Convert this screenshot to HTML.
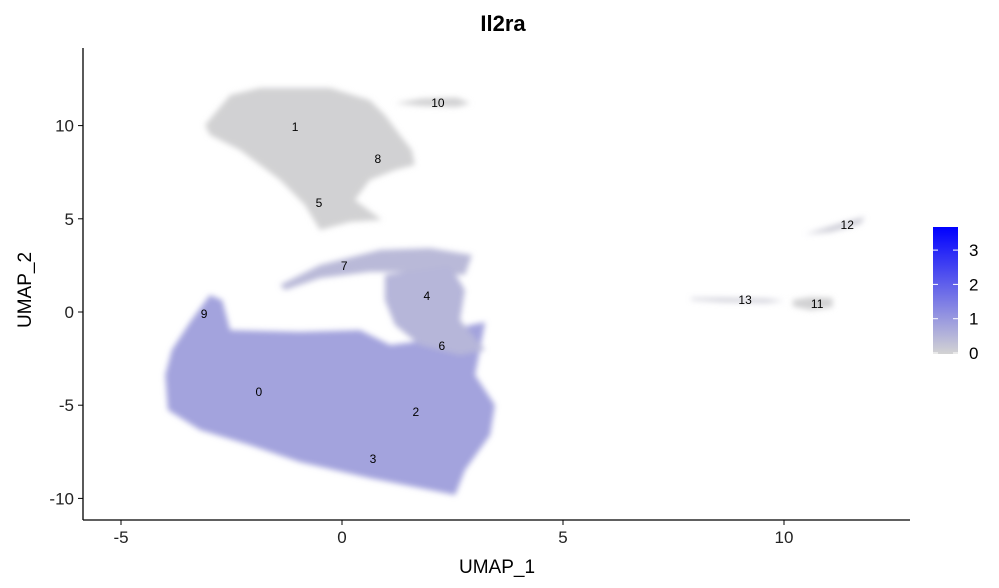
<!DOCTYPE html>
<html><head><meta charset="utf-8"><style>
html,body{margin:0;padding:0;background:#fff;}
svg{display:block;font-family:"Liberation Sans",sans-serif;}
</style></head><body>
<svg id="chart" width="999" height="588" viewBox="0 0 999 588">
<defs>
<filter id="soft" x="-10%" y="-10%" width="120%" height="120%"><feGaussianBlur stdDeviation="3"/></filter>
<linearGradient id="cbar" x1="0" y1="1" x2="0" y2="0">
<stop offset="0" stop-color="#d3d3d3"/><stop offset="1" stop-color="#0000ff"/>
</linearGradient>
</defs>
<text x="503" y="31" text-anchor="middle" font-size="22" font-weight="bold" fill="#000">Il2ra</text>
<g id="clusters" filter="url(#soft)"></g>
<g id="labels"></g>
<g id="axes"></g>
<text x="497" y="573" text-anchor="middle" font-size="19" fill="#000">UMAP_1</text>
<text transform="translate(31,290) rotate(-90)" text-anchor="middle" font-size="19" fill="#000">UMAP_2</text>
<rect x="933" y="227" width="25" height="127" fill="url(#cbar)"/>
<g id="legend"></g>
</svg>
<script>
const xTicks=[-5,0,5,10];
const yTicks=[-10,-5,0,5,10];
const legendTicks=[0,1,2,3];
const legendMax=3.7;
const clusterNames=["top","bottom","arc7","c46","c10","c13","c11","c12"];
const clusterExpr=[0.03,0.85,0.45,0.5,0.03,0.15,0.03,0.15];
const clusterShapes=[
[[-3.10,10.03],[-2.53,11.64],[-1.86,12.02],[-0.27,12.02],[0.63,11.37],[0.97,10.57],[1.31,9.50],[1.58,8.69],[1.65,7.89],[1.20,7.62],[0.63,7.08],[0.29,6.01],[0.90,4.94],[0.18,4.83],[-0.50,4.40],[-0.84,5.74],[-1.40,7.08],[-2.31,8.69],[-2.99,9.50]],
[[-4.00,-3.38],[-3.85,-2.04],[-3.44,-0.54],[-2.99,0.91],[-2.71,0.64],[-2.53,-0.97],[-0.95,-1.07],[0.41,-0.97],[1.09,-1.77],[1.99,-1.50],[2.90,-0.70],[3.24,-0.54],[3.12,-2.04],[3.01,-3.38],[3.46,-4.99],[3.35,-6.60],[2.78,-8.48],[2.56,-9.82],[1.76,-9.44],[0.63,-8.91],[-0.95,-8.05],[-2.08,-7.14],[-3.21,-6.33],[-3.94,-5.26]],
[[-1.40,1.45],[-0.50,2.52],[0.86,3.33],[1.99,3.43],[2.94,3.06],[2.78,1.99],[1.76,2.15],[0.63,2.15],[-0.50,1.82],[-1.29,1.18]],
[[0.97,1.99],[2.44,2.52],[2.78,1.18],[2.67,-0.43],[3.24,-2.04],[2.67,-2.31],[1.76,-1.77],[1.20,-0.70],[0.97,0.64]],
[[1.2,11.2],[1.8,11.45],[2.6,11.5],[2.9,11.2],[2.6,11.0],[1.8,11.05]],
[[7.9,0.75],[8.6,0.75],[9.6,0.70],[10.0,0.6],[9.6,0.5],[8.6,0.55],[7.9,0.65]],
[[10.2,0.65],[10.6,0.80],[11.1,0.75],[11.1,0.25],[10.6,0.10],[10.2,0.30]],
[[10.48,4.18],[11.38,4.83],[11.83,5.10],[11.72,4.72],[11.04,4.29]]
];
const labelNames=["0","1","2","3","4","5","6","7","8","9","10","11","12","13"];
const labelX=[-1.88,-1.06,1.67,0.70,1.92,-0.52,2.26,0.05,0.81,-3.12,2.17,10.75,11.43,9.12];
const labelY=[-4.29,9.92,-5.36,-7.89,0.86,5.85,-1.82,2.47,8.21,-0.11,11.21,0.43,4.67,0.64];

const X=v=>342+v*44.2, Y=v=>312-v*18.64;
const NS="http://www.w3.org/2000/svg";
function mk(t,a,p){const e=document.createElementNS(NS,t);for(const k in a)e.setAttribute(k,a[k]);p.appendChild(e);return e;}
function col(e){const t=Math.min(e/legendMax,1);const r=Math.round(211*(1-t)),g=Math.round(211*(1-t)),b=Math.round(211+(255-211)*t);return `rgb(${r},${g},${b})`;}
const cg=document.getElementById('clusters');
clusterShapes.forEach((s,i)=>{
 const p=mk('polygon',{points:s.map(q=>X(q[0]).toFixed(1)+','+Y(q[1]).toFixed(1)).join(' '),fill:col(clusterExpr[i])},cg);
 
 
});
const lg=document.getElementById('labels');
labelNames.forEach((n,i)=>{
 const t=mk('text',{x:X(labelX[i]),y:Y(labelY[i])+4,'text-anchor':'middle','font-size':'12',fill:'#000'},lg);
 t.textContent=n;
 
 
});
const ax=document.getElementById('axes');
const xl=mk('line',{x1:83,y1:520,x2:910,y2:520,stroke:'#000','stroke-width':1.3},ax);


const yl=mk('line',{x1:83,y1:48,x2:83,y2:520,stroke:'#000','stroke-width':1.3},ax);


xTicks.forEach(v=>{
 mk('line',{x1:X(v),y1:520,x2:X(v),y2:525,stroke:'#000'},ax);
 const t=mk('text',{x:X(v),y:543,'text-anchor':'middle','font-size':'17',fill:'#222'},ax);
 t.textContent=v;
 
 
});
yTicks.forEach(v=>{
 mk('line',{x1:78,y1:Y(v),x2:83,y2:Y(v),stroke:'#000'},ax);
 const t=mk('text',{x:74,y:Y(v)+6,'text-anchor':'end','font-size':'17',fill:'#222'},ax);
 t.textContent=v;
 
 
});
const lgd=document.getElementById('legend');
const LY=v=>353-v*34.3;
legendTicks.forEach(v=>{
 mk('line',{x1:933,y1:LY(v),x2:938,y2:LY(v),stroke:'#fff'},lgd);
 mk('line',{x1:953,y1:LY(v),x2:958,y2:LY(v),stroke:'#fff'},lgd);
 const t=mk('text',{x:969,y:LY(v)+6,'font-size':'17',fill:'#000'},lgd);
 t.textContent=v;
 
 
});
</script>
</body></html>
